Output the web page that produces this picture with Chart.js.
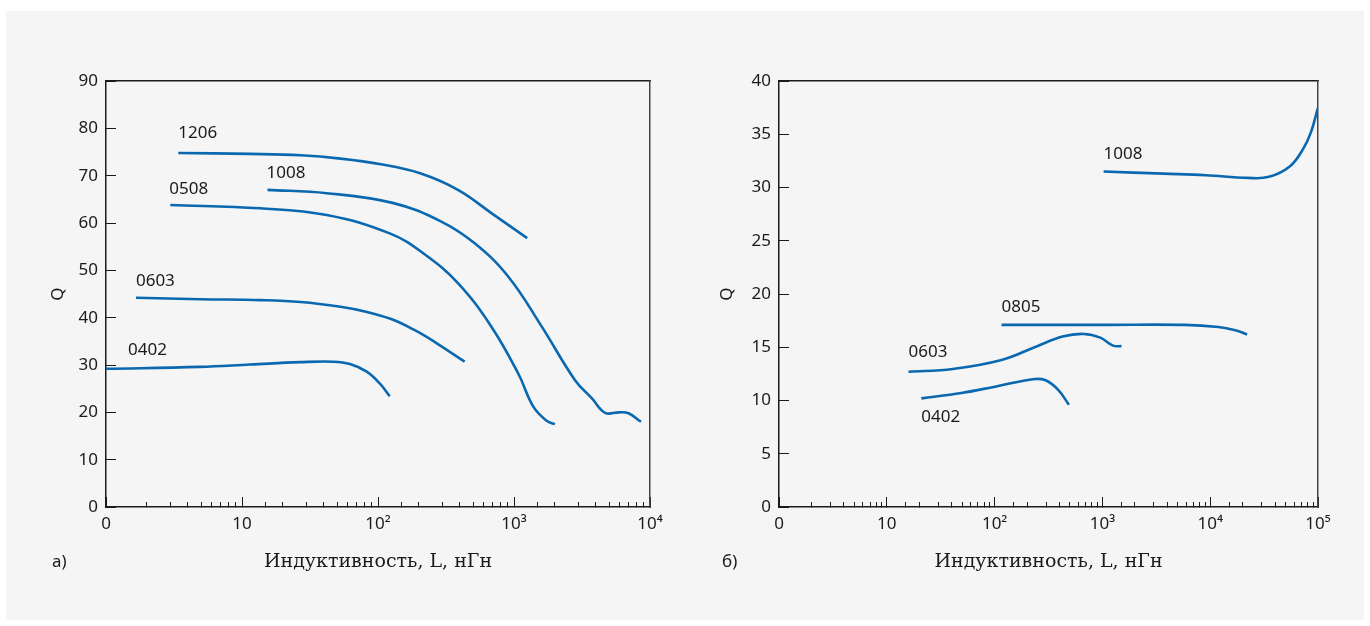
<!DOCTYPE html>
<html lang="ru">
<head>
<meta charset="UTF-8">
<title>Q vs L</title>
<script src="https://cdn.jsdelivr.net/npm/chart.js@4"></script>
<style>
    body { margin: 0; background: #fff; font-family: "Noto Sans", sans-serif; }
    #panel { position: absolute; left: 6px; top: 11px; width: 1358px; height: 609px; background: #f5f5f5; }
    canvas { position: absolute; top: 0; }
    #ca { left: 0; }
    #cb { left: 685px; }
    .tag { position: absolute; top: 549px; font-size: 17px; color: #1a1a1a; }
</style>
</head>
<body>
<div id="panel"></div>
<canvas id="ca" width="685" height="626"></canvas>
<canvas id="cb" width="685" height="626"></canvas>
<div class="tag" style="left:52px">а)</div>
<div class="tag" style="left:722px">б)</div>
<script>
// panel a) — Q vs L, nH
const a1206_L = [3.4, 11.5, 27, 53, 105, 204, 387, 682, 1250];
const a1206_Q = [74.8, 74.6, 74.3, 73.6, 72.4, 70.5, 67.0, 62.1, 56.8];
const a1008_L = [15.4, 42, 130, 292, 514, 906, 1600, 2810, 3730, 4680, 5900, 6950, 8590];
const a1008_Q = [67.0, 66.3, 64.2, 60.3, 55.7, 48.7, 38.1, 26.8, 23.0, 19.9, 20.0, 19.8, 18.0];
const a0508_L = [2.97, 13.6, 42, 122, 220, 387, 682, 1074, 1387, 1740, 2000];
const a0508_Q = [63.8, 63.1, 61.7, 57.8, 53.4, 47.3, 38.1, 28.2, 21.2, 18.2, 17.5];
const a0603_L = [1.66, 4.94, 13.7, 27, 53, 80, 125, 185, 260, 434];
const a0603_Q = [44.2, 43.9, 43.7, 43.3, 42.3, 41.3, 39.7, 37.4, 34.9, 30.7];
const a0402_L = [1, 4.9, 11.5, 26.7, 46.9, 62.2, 82.6, 103, 122];
const a0402_Q = [29.2, 29.6, 30.1, 30.6, 30.7, 30.2, 28.6, 26.1, 23.4];

// panel б)
const b1008_L = [1026, 3700, 9100, 22400, 35100, 55000, 72600, 86100, 100000];
const b1008_Q = [31.5, 31.3, 31.15, 30.9, 31.0, 32.0, 33.6, 35.2, 37.5];
const b0805_L = [116, 1000, 5800, 11900, 17100, 22000];
const b0805_Q = [17.1, 17.1, 17.1, 16.9, 16.6, 16.2];
const b0603_L = [15.9, 40.9, 116, 248, 427, 669, 957, 1257, 1503];
const b0603_Q = [12.7, 12.96, 13.8, 15.1, 16.0, 16.25, 15.9, 15.15, 15.1];
const b0402_L = [20.9, 49.2, 101, 227, 297, 389, 489];
const b0402_Q = [10.2, 10.7, 11.3, 12.0, 11.9, 11.0, 9.6];

const xTitle = 'Индуктивность, L, нГн';
const decadeLabels = { 1: '0', 10: '10', 100: '10²', 1000: '10³', 10000: '10⁴', 100000: '10⁵' };

const BLUE = '#0a68b0';
const INK = '#1a1a1a';
const FONT = { family: 'Noto Sans', size: 17 };
const TITLE_FONT = { family: 'DejaVu Serif', size: 19 };

function series(name, xs, ys, dx, dy) {
    return {
        label: name,
        data: xs.map((x, i) => ({ x: x, y: ys[i] })),
        borderColor: BLUE,
        borderWidth: 2.6,
        pointRadius: 0,
        fill: false,
        tension: 0.4,
        tagDx: dx,
        tagDy: dy
    };
}

// curve names next to the first point of each line
const curveTags = {
    id: 'curveTags',
    afterDatasetsDraw(chart) {
        const ctx = chart.ctx;
        ctx.save();
        ctx.font = '17px "Noto Sans"';
        ctx.fillStyle = INK;
        ctx.textBaseline = 'middle';
        chart.data.datasets.forEach((ds, i) => {
            const p = chart.getDatasetMeta(i).data[0];
            ctx.fillText(ds.label, p.x + ds.tagDx, p.y + ds.tagDy);
        });
        ctx.restore();
    }
};

function isDecade(v) {
    return decadeLabels[v] !== undefined;
}

function makeChart(id, datasets, xMax, yMax, yStep, pad, yWidth) {
    const fixW = w => s => { s.width = w; };
    const fixH = h => s => { s.height = h; };
    return new Chart(document.getElementById(id), {
        type: 'line',
        data: { datasets: datasets },
        plugins: [curveTags],
        options: {
            responsive: false,
            animation: false,
            layout: { padding: pad },
            plugins: { legend: { display: false }, tooltip: { enabled: false } },
            scales: {
                x: {
                    type: 'logarithmic', min: 1, max: xMax, position: 'bottom', weight: 1,
                    afterFit: fixH(626 - pad.bottom - 507),
                    border: { color: INK, width: 1.5 },
                    grid: { drawOnChartArea: false, tickLength: -5, color: INK, tickWidth: 1 },
                    ticks: {
                        autoSkip: false, maxRotation: 0, padding: 12, color: INK, font: FONT,
                        callback: v => decadeLabels[v] || ''
                    },
                    title: { display: true, text: xTitle, color: INK, font: TITLE_FONT, padding: { top: 0, bottom: 7 } }
                },
                xd: {
                    type: 'logarithmic', min: 1, max: xMax, position: 'bottom', weight: 0,
                    afterFit: fixH(0),
                    border: { display: false },
                    grid: {
                        drawOnChartArea: false, tickLength: -10, tickWidth: 1,
                        tickColor: c => isDecade(c.tick.value) ? INK : 'rgba(0,0,0,0)'
                    },
                    ticks: { display: false, autoSkip: false }
                },
                xt: {
                    type: 'logarithmic', min: 1, max: xMax, position: 'top',
                    afterFit: fixH(0),
                    border: { color: INK, width: 1.5 },
                    grid: { drawOnChartArea: false, drawTicks: false },
                    ticks: { display: false }
                },
                y: {
                    min: 0, max: yMax, position: 'left',
                    afterFit: fixW(yWidth),
                    border: { color: INK, width: 1.5 },
                    grid: { drawOnChartArea: false, tickLength: -10, color: INK },
                    ticks: { stepSize: yStep, padding: 18, color: INK, font: FONT },
                    title: { display: true, text: 'Q', color: INK, font: FONT, padding: 4 }
                },
                yr: {
                    min: 0, max: yMax, position: 'right',
                    afterFit: fixW(0),
                    border: { color: '#444', width: 1.5 },
                    grid: { drawOnChartArea: false, drawTicks: false },
                    ticks: { display: false }
                }
            }
        }
    });
}

makeChart('ca', [
    series('1206', a1206_L, a1206_Q, 0, -20),
    series('1008', a1008_L, a1008_Q, -1, -17),
    series('0508', a0508_L, a0508_Q, -1, -16),
    series('0603', a0603_L, a0603_Q, 0, -17),
    series('0402', a0402_L, a0402_Q, 22, -19)
], 10000, 90, 10, { left: 44, right: 35, top: 81, bottom: 46 }, 62);

makeChart('cb', [
    series('1008', b1008_L, b1008_Q, 0, -17),
    series('0805', b0805_L, b0805_Q, 0, -18),
    series('0603', b0603_L, b0603_Q, 0, -20),
    series('0402', b0402_L, b0402_Q, 0, 19)
], 100000, 40, 5, { left: 28, right: 52, top: 81, bottom: 46 }, 66);
</script>
</body>
</html>
